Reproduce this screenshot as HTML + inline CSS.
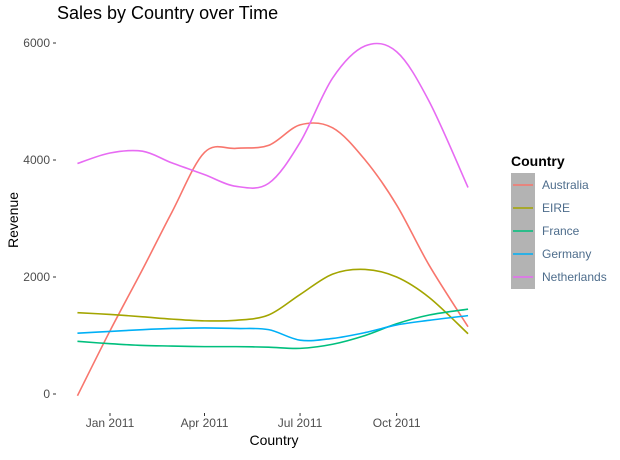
<!DOCTYPE html>
<html><head><meta charset="utf-8"><style>
body{margin:0;background:#fff;font-family:"Liberation Sans",sans-serif}
svg text{font-family:"Liberation Sans",sans-serif}
</style></head><body>
<svg id="chart" width="620" height="455">
<text x="57" y="19" font-size="18" fill="#000">Sales by Country over Time</text>
<g id="yaxis"></g>
<g id="xaxis"></g>
<g id="lines"></g>
<text x="18" y="220" font-size="14" transform="rotate(-90 18 220)" text-anchor="middle" fill="#000">Revenue</text>
<text x="274" y="445" font-size="14" text-anchor="middle" fill="#000">Country</text>
<g id="legend">
<text x="511" y="166" font-size="14" font-weight="bold" fill="#000">Country</text>
<rect x="511" y="173" width="24" height="116" fill="#b3b3b3"/>
</g>
</svg>
<script>
const months = ["2010-12-01","2011-01-01","2011-02-01","2011-03-01","2011-04-01","2011-05-01","2011-06-01","2011-07-01","2011-08-01","2011-09-01","2011-10-01","2011-11-01","2011-12-08"];
const countries = ["Australia","EIRE","France","Germany","Netherlands"];
const colors = ["#F8766D","#A3A500","#00BF7D","#00B0F6","#E76BF3"];
const australia = [-30,1080,2130,3110,4130,4200,4250,4600,4550,4000,3230,2200,1150];
const eire = [1390,1360,1320,1280,1250,1260,1350,1700,2050,2130,2000,1650,1030];
const france = [900,860,830,820,810,810,800,780,850,1000,1200,1350,1450];
const germany = [1040,1070,1100,1120,1130,1120,1100,920,950,1050,1180,1260,1340];
const netherlands = [3940,4120,4150,3950,3750,3550,3600,4300,5400,5950,5850,5000,3530];
const yTicks = [0,2000,4000,6000];
const xTickDates = ["2011-01-01","2011-04-01","2011-07-01","2011-10-01"];
const xTickLabels = ["Jan 2011","Apr 2011","Jul 2011","Oct 2011"];

const NS="http://www.w3.org/2000/svg";
const t0=Date.parse("2011-01-01");
function x(d){return 110+(Date.parse(d)-t0)/86400000*1.05;}
function y(v){return 394-v*0.0585;}
function mk(tag,attrs,parent){const e=document.createElementNS(NS,tag);for(const k in attrs)e.setAttribute(k,attrs[k]);parent.appendChild(e);return e;}
const ya=document.getElementById("yaxis"),xa=document.getElementById("xaxis"),lg=document.getElementById("lines"),leg=document.getElementById("legend");
yTicks.forEach(v=>{
  const t=mk("text",{x:50,y:y(v)+4,"font-size":12,"text-anchor":"end",fill:"#4d4d4d"},ya);t.textContent=v;
  
  
  const l=mk("line",{x1:53,x2:56,y1:y(v),y2:y(v),stroke:"#333","stroke-width":1},ya);
  
  
});
xTickDates.forEach((d,i)=>{
  const l=mk("line",{x1:x(d),x2:x(d),y1:413,y2:416,stroke:"#333","stroke-width":1},xa);
  
  
  const t=mk("text",{x:x(d),y:427,"font-size":12,"text-anchor":"middle",fill:"#4d4d4d"},xa);t.textContent=xTickLabels[i];
  
  
});
function path(vals){
  const p=vals.map((v,i)=>[x(months[i]),y(v)]);
  let d="M"+p[0][0]+","+p[0][1];
  for(let i=0;i<p.length-1;i++){
    const p0=p[i-1]||p[i],p1=p[i],p2=p[i+1],p3=p[i+2]||p2;
    d+=" C"+(p1[0]+(p2[0]-p0[0])/6)+","+(p1[1]+(p2[1]-p0[1])/6)+" "+(p2[0]-(p3[0]-p1[0])/6)+","+(p2[1]-(p3[1]-p1[1])/6)+" "+p2[0]+","+p2[1];
  }
  return d;
}
const series=[australia,eire,france,germany,netherlands];
series.forEach((s,i)=>{
  const p=mk("path",{d:path(s),fill:"none",stroke:colors[i],"stroke-width":1.6},lg);
  
  
  const ly=185+i*23;
  const l=mk("line",{x1:513,x2:533,y1:ly,y2:ly,stroke:colors[i],"stroke-width":1.6},leg);
  
  
  const t=mk("text",{x:542,y:ly+4,"font-size":12,fill:"#4E6D8C"},leg);t.textContent=countries[i];
  
  
});
</script>
</body></html>
